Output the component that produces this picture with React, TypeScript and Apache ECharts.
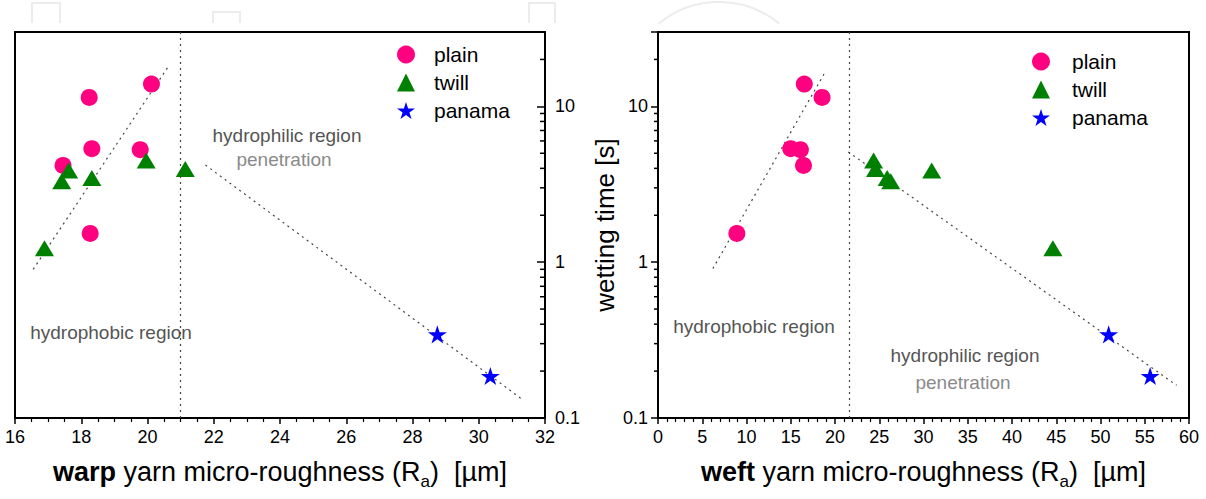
import React, { useEffect, useRef } from 'react';
import * as echarts from 'echarts';

// ---------- data ----------
const WEAVES = ['plain', 'twill', 'panama'];

// warp yarn micro-roughness Ra [µm] vs wetting time [s]
const warpPlain = [[18.24, 11.4], [20.12, 13.9], [18.32, 5.35], [19.78, 5.27], [17.45, 4.18], [18.27, 1.53]];
const warpTwill = [[19.96, 4.49], [21.14, 3.96], [17.62, 3.87], [17.41, 3.31], [18.32, 3.47], [16.89, 1.23]];
const warpPanama = [[28.75, 0.344], [30.35, 0.186]];

// weft yarn micro-roughness Ra [µm] vs wetting time [s]
const weftPlain = [[16.53, 13.9], [18.54, 11.4], [15.0, 5.35], [16.09, 5.27], [16.44, 4.18], [8.91, 1.53]];
const weftTwill = [[24.36, 4.49], [24.58, 3.96], [30.93, 3.87], [26.3, 3.31], [25.9, 3.47], [44.62, 1.23]];
const weftPanama = [[50.92, 0.344], [55.61, 0.186]];

// dotted guide lines (fit end points) and region boundaries
const warpFitPhobic = [[16.55, 0.9], [20.62, 17.9]];
const warpFitPhilic = [[21.75, 4.2], [31.35, 0.13]];
const weftFitPhobic = [[6.2, 0.91], [18.89, 16.6]];
const weftFitPhilic = [[21.5, 5.1], [58.6, 0.162]];
const warpBoundary = 21.0;
const weftBoundary = 21.6;

// axis ranges / ticks
const warpRange = [16, 32];
const warpInterval = 2;
const weftRange = [0, 60];
const weftInterval = 5;
const timeRange = [0.1, 30];
const minorTimeTicks = [0.2, 0.3, 0.4, 0.5, 0.6, 0.7, 0.8, 0.9, 2, 3, 4, 5, 6, 7, 8, 9, 20];

// ---------- styles ----------
const FONT = '"Liberation Sans", Arial, Helvetica, sans-serif';
const STAR =
  'path://M50,0 L61.2,34.6 L97.6,34.6 L68.2,55.9 L79.4,90.5 L50,69.1 L20.6,90.5 L31.8,55.9 L2.4,34.6 L38.8,34.6 Z';
const COLORS = { plain: '#ff0080', twill: '#008000', panama: '#0000ff' };
const DOT = { color: '#444', width: 1.2, type: [2, 4] as any };

const decadeLabel = (v: number) => {
  const l = Math.log10(v);
  if (Math.abs(l - Math.round(l)) > 1e-6) return '';
  return v < 1 ? v.toFixed(1) : String(Math.round(v));
};

export default function App() {
  const ref = useRef<HTMLDivElement>(null);

  useEffect(() => {
    const chart = echarts.init(ref.current!, null, { renderer: 'svg' });

    const scatter = (name: string, data: number[][], i: number, symbol: string, size: any, z: number) => ({
      type: 'scatter',
      name,
      data,
      xAxisIndex: i,
      yAxisIndex: i,
      symbol,
      symbolSize: size,
      symbolKeepAspect: true,
      itemStyle: { color: (COLORS as any)[name], opacity: 1 },
      z,
      silent: true,
    });

    const fit = (data: number[][], i: number, boundary?: number) => ({
      type: 'line',
      data,
      xAxisIndex: i,
      yAxisIndex: i,
      symbol: 'none',
      lineStyle: DOT,
      silent: true,
      z: 1,
      markLine:
        boundary === undefined
          ? undefined
          : {
              symbol: 'none',
              silent: true,
              label: { show: false },
              lineStyle: DOT,
              data: [{ xAxis: boundary }],
            },
    });

    const minorTicks = (i: number, edgeX: number, len: number) => ({
      type: 'custom',
      xAxisIndex: i,
      yAxisIndex: i,
      silent: true,
      clip: false,
      z: 10,
      data: minorTimeTicks.map((v) => [edgeX, v]),
      renderItem: (_p: any, api: any) => {
        const p = api.coord([api.value(0), api.value(1)]);
        return {
          type: 'line',
          shape: { x1: p[0], y1: p[1], x2: p[0] - len, y2: p[1] },
          style: { stroke: '#000', lineWidth: 1.5 },
        };
      },
    });

    const xName = (bold: string) => ({
      name: `{b|${bold}} yarn micro-roughness (R{s|a})  [µm]`,
      nameLocation: 'middle',
      nameGap: 35,
      nameTextStyle: {
        fontSize: 27,
        color: '#000',
        fontFamily: FONT,
        rich: {
          b: { fontSize: 27, fontWeight: 'bold', color: '#000', fontFamily: FONT },
          s: { fontSize: 17, color: '#000', fontFamily: FONT, padding: [20, 0, 0, 0] },
        },
      },
    });

    const xAxisBase = {
      type: 'value',
      axisLine: { show: true, lineStyle: { color: '#000', width: 2 } },
      axisTick: { show: true, inside: false, length: 6, lineStyle: { color: '#000', width: 1.5 } },
      minorTick: { show: true, length: 4, lineStyle: { color: '#000', width: 1.2 } },
      splitLine: { show: false },
      minorSplitLine: { show: false },
      axisLabel: { fontSize: 18, color: '#000', fontFamily: FONT, margin: 10 },
    };

    const yAxisBase = {
      type: 'log',
      logBase: 10,
      min: timeRange[0],
      max: timeRange[1],
      axisLine: { show: true, lineStyle: { color: '#000', width: 2 } },
      splitLine: { show: false },
      axisLabel: { fontSize: 18, color: '#000', fontFamily: FONT, margin: 10, formatter: decadeLabel },
    };

    const textAt = (text: string, x: number, y: number, fill: string) => ({
      type: 'text',
      x,
      y,
      silent: true,
      style: { text, x: 0, y: 0, fill, fontSize: 19, fontFamily: FONT, textAlign: 'center', textVerticalAlign: 'middle' },
    });

    const FAINT = { stroke: '#ececec', lineWidth: 2, fill: 'none' };

    const legendBase = {
      data: WEAVES,
      orient: 'vertical',
      padding: 0,
      itemWidth: 18,
      itemHeight: 18,
      itemGap: 7,
      selectedMode: false,
    };

    const option: any = {
      animation: false,
      backgroundColor: '#fff',
      textStyle: { fontFamily: FONT },
      grid: [
        { left: 15, top: 32, width: 530, height: 386, show: true, borderColor: '#000', borderWidth: 2 },
        { left: 658, top: 32, width: 531, height: 386, show: true, borderColor: '#000', borderWidth: 2 },
      ],
      xAxis: [
        {
          ...xAxisBase,
          gridIndex: 0,
          min: warpRange[0],
          max: warpRange[1],
          interval: warpInterval,
          minorTick: { ...xAxisBase.minorTick, splitNumber: 4 },
          ...xName('warp'),
        },
        {
          ...xAxisBase,
          gridIndex: 1,
          min: weftRange[0],
          max: weftRange[1],
          interval: weftInterval,
          minorTick: { ...xAxisBase.minorTick, splitNumber: 5 },
          ...xName('weft'),
        },
      ],
      yAxis: [
        {
          ...yAxisBase,
          gridIndex: 0,
          position: 'right',
          axisTick: { show: true, inside: true, length: 8, lineStyle: { color: '#000', width: 1.5 } },
        },
        {
          ...yAxisBase,
          gridIndex: 1,
          position: 'left',
          axisTick: { show: true, inside: false, length: 7, lineStyle: { color: '#000', width: 1.5 } },
          name: 'wetting time [s]',
          nameLocation: 'middle',
          nameRotate: 90,
          nameGap: 40,
          nameTextStyle: { fontSize: 26, color: '#000', fontFamily: FONT },
        },
      ],
      legend: [
        {
          ...legendBase,
          left: 397,
          top: 44,
          textStyle: { fontSize: 21, color: '#000', fontFamily: FONT, padding: [0, 0, 0, 14] },
        },
        {
          ...legendBase,
          left: 1032,
          top: 51,
          textStyle: { fontSize: 21, color: '#000', fontFamily: FONT, padding: [0, 0, 0, 17] },
        },
      ],
      graphic: [
        textAt('hydrophilic region', 287, 135, '#555'),
        textAt('penetration', 284, 159, '#8a8a8a'),
        textAt('hydrophobic region', 111, 332, '#555'),
        textAt('hydrophobic region', 754, 326, '#555'),
        textAt('hydrophilic region', 965, 355, '#555'),
        textAt('penetration', 963, 382, '#8a8a8a'),
        { type: 'polyline', silent: true, shape: { points: [[32, 23], [32, 3], [60, 3], [60, 23]] }, style: FAINT },
        { type: 'polyline', silent: true, shape: { points: [[213, 23], [213, 12], [240, 12], [240, 23]] }, style: FAINT },
        { type: 'polyline', silent: true, shape: { points: [[529, 23], [529, 3], [555, 3], [555, 23]] }, style: FAINT },
        {
          type: 'arc',
          silent: true,
          shape: { cx: 719, cy: 97, r: 95, startAngle: -2.26, endAngle: -0.885 },
          style: { stroke: '#ececec', lineWidth: 2, fill: 'none' },
        },
      ],
      series: [
        fit(warpFitPhobic, 0, warpBoundary),
        fit(warpFitPhilic, 0),
        fit(weftFitPhobic, 1, weftBoundary),
        fit(weftFitPhilic, 1),
        scatter('plain', warpPlain, 0, 'circle', 17, 3),
        scatter('twill', warpTwill, 0, 'triangle', [19, 16], 4),
        scatter('panama', warpPanama, 0, STAR, 19, 5),
        scatter('plain', weftPlain, 1, 'circle', 17, 3),
        scatter('twill', weftTwill, 1, 'triangle', [19, 16], 4),
        scatter('panama', weftPanama, 1, STAR, 19, 5),
        minorTicks(0, warpRange[1], 5),
        minorTicks(1, weftRange[0], 4),
      ],
    };

    chart.setOption(option);
    return () => chart.dispose();
  }, []);

  return (
    <div
      ref={ref}
      style={{ position: 'fixed', left: 0, top: 0, width: 1206, height: 499, background: '#fff' }}
    />
  );
}
